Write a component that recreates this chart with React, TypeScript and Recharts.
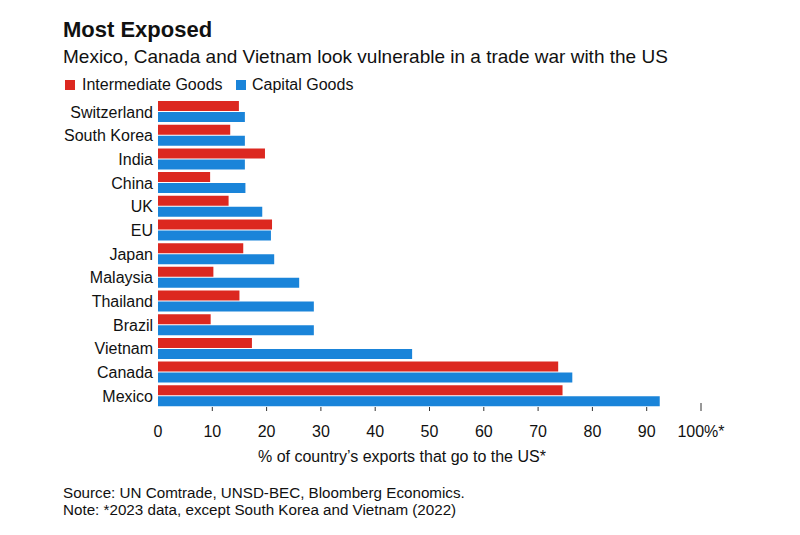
import React from "react";
import { BarChart, Bar, XAxis, YAxis } from "recharts";

// Share of each country's exports going to the US, by goods type (%)
const countries = [
    "Switzerland",
    "South Korea",
    "India",
    "China",
    "UK",
    "EU",
    "Japan",
    "Malaysia",
    "Thailand",
    "Brazil",
    "Vietnam",
    "Canada",
    "Mexico",
];
const intermediateGoods = [14.9, 13.3, 19.7, 9.6, 13.0, 21.0, 15.7, 10.2, 15.0, 9.7, 17.3, 73.7, 74.5];
const capitalGoods = [16.0, 16.0, 16.0, 16.1, 19.2, 20.8, 21.4, 26.0, 28.7, 28.7, 46.8, 76.3, 92.4];
const xTicks = [0, 10, 20, 30, 40, 50, 60, 70, 80, 90, 100];

const RED = "#dc2820";
const BLUE = "#1a84d9";
const FONT = '"Liberation Sans", Arial, Helvetica, sans-serif';

const data = countries.map((name, i) => ({
    name,
    intermediate: intermediateGoods[i],
    capital: capitalGoods[i],
}));

function PctTick(props: any) {
    const { x, y, payload } = props;
    const v = payload.value;
    return (
        <g>
            {v > 0 && (
                <line x1={x} x2={x} y1={v === 100 ? y - 5 : y - 1} y2={y + 3} stroke="#333" strokeWidth={1} />
            )}
            <text x={x} y={y + 29} textAnchor="middle" fill="#111" fontSize={16} fontFamily={FONT}>
                {v === 100 ? "100%*" : v}
            </text>
        </g>
    );
}

const abs = (left: number, top: number, extra: React.CSSProperties = {}): React.CSSProperties => ({
    position: "absolute",
    left,
    top,
    whiteSpace: "nowrap",
    fontFamily: FONT,
    color: "#111",
    ...extra,
});

export default function App() {
    return (
        <div style={{ position: "absolute", left: 0, top: 0, width: 800, height: 535, background: "#fff", overflow: "hidden" }}>
            <div style={abs(63, 17, { fontSize: 22, fontWeight: 700, lineHeight: "26px" })}>Most Exposed</div>
            <div style={abs(63, 46, { fontSize: 19, lineHeight: "22px" })}>
                Mexico, Canada and Vietnam look vulnerable in a trade war with the US
            </div>

            <div style={abs(65, 80, { width: 10, height: 10, background: RED })} />
            <div style={abs(82, 75, { fontSize: 16, lineHeight: "20px" })}>Intermediate Goods</div>
            <div style={abs(236, 80, { width: 10, height: 10, background: BLUE })} />
            <div style={abs(252, 75, { fontSize: 16, lineHeight: "20px" })}>Capital Goods</div>

            <div style={{ position: "absolute", left: 0, top: 0 }}>
                <BarChart
                    width={800}
                    height={535}
                    data={data}
                    layout="vertical"
                    margin={{ top: 100, right: 99, bottom: 0, left: 8 }}
                    barSize={10}
                    barGap={1}
                >
                    <XAxis
                        type="number"
                        domain={[0, 100]}
                        ticks={xTicks}
                        height={127}
                        axisLine={false}
                        tickLine={false}
                        tickSize={0}
                        tickMargin={0}
                        interval={0}
                        tick={<PctTick />}
                    />
                    <YAxis
                        type="category"
                        dataKey="name"
                        width={150}
                        axisLine={false}
                        tickLine={false}
                        tickSize={0}
                        tickMargin={5}
                        interval={0}
                        tick={{ fill: "#111", fontSize: 16, fontFamily: FONT }}
                    />
                    <Bar dataKey="intermediate" fill={RED} isAnimationActive={false} />
                    <Bar dataKey="capital" fill={BLUE} isAnimationActive={false} />
                </BarChart>
            </div>

            <div style={abs(258, 447, { fontSize: 16, lineHeight: "20px" })}>% of country’s exports that go to the US*</div>

            <div style={abs(63, 484, { fontSize: 15.2, lineHeight: "18px" })}>
                Source: UN Comtrade, UNSD-BEC, Bloomberg Economics.
            </div>
            <div style={abs(63, 501, { fontSize: 15.2, lineHeight: "18px" })}>
                Note: *2023 data, except South Korea and Vietnam (2022)
            </div>
        </div>
    );
}
